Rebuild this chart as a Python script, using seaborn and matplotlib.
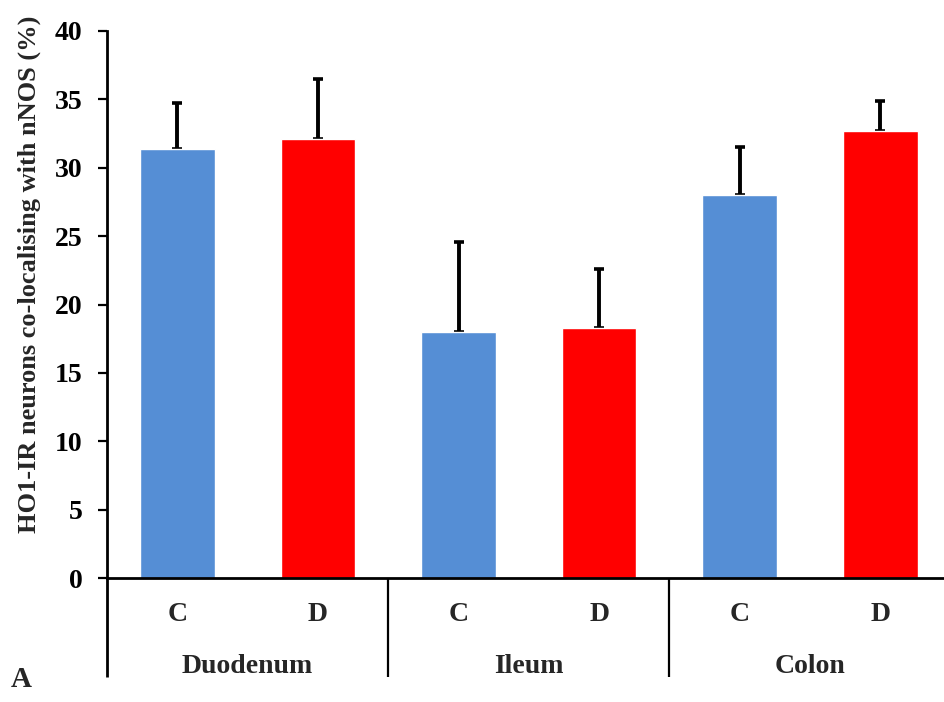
import matplotlib
matplotlib.use("Agg")
import matplotlib.pyplot as plt
import matplotlib.transforms as mtransforms
import numpy as np
import pandas as pd
import seaborn as sns

# Percentage of HO1-IR neurons co-localising with nNOS, mean + SEM
regions = ["Duodenum", "Ileum", "Colon"]
groups = ["C", "D"]
means = [31.4, 32.1, 18.0, 18.3, 28.0, 32.7]
errors = [3.3, 4.4, 6.6, 4.3, 3.5, 2.2]
bar_colors = ["#558ED5", "#FF0000"]

sns.set_theme(style="white")
plt.rcParams["font.family"] = ["Liberation Serif", "DejaVu Serif"]
plt.rcParams["font.weight"] = "bold"

labels = [f"{r} {g}" for r in regions for g in groups]
df = pd.DataFrame({"bar": labels, "value": means,
                   "group": [g for _ in regions for g in groups]})

W, H = 944, 702
fig = plt.figure(figsize=(W / 100, H / 100), dpi=100)
ax_left, ax_right, ax_top, ax_bottom = 107, 944, 31, 578
ax = fig.add_axes([ax_left / W, (H - ax_bottom) / H,
                   (ax_right - ax_left) / W, (ax_bottom - ax_top) / H])

sns.barplot(data=df, x="bar", y="value", hue="group", palette=bar_colors,
            order=labels, width=0.53, dodge=False, legend=False,
            saturation=1, ax=ax)

x = np.arange(len(means))
ax.errorbar(x, means, yerr=[np.zeros(len(errors)), errors], fmt="none",
            ecolor="black", elinewidth=2.8, capsize=3.3, capthick=2.6,
            zorder=1)
for p in ax.patches:
    p.set_zorder(2)

ax.set_ylim(0, 40)
ax.set_yticks(np.arange(0, 41, 5))
spacing = 140.6
ax.set_xlim(-0.5, -0.5 + (ax_right - ax_left) / spacing)
ax.set_xticks(x)
ax.set_xticklabels([g for _ in regions for g in groups])
ax.set_xlabel("")

for s in ["top", "right"]:
    ax.spines[s].set_visible(False)
for s in ["left", "bottom"]:
    ax.spines[s].set_linewidth(2.0)
    ax.spines[s].set_color("black")

ax.tick_params(axis="y", direction="out", length=6.5, width=1.6,
               labelsize=20, pad=11, colors="black", left=True)
ax.tick_params(axis="x", length=0, labelsize=20, pad=17)
for t in ax.get_xticklabels() + ax.get_yticklabels():
    t.set_fontweight("bold")

ax.set_ylabel("HO1-IR neurons co-localising with nNOS (%)",
              fontsize=19, fontweight="bold")
ax.yaxis.set_label_coords(-0.079, 0.556)

# Category brackets below the axis
trans = mtransforms.blended_transform_factory(ax.transData, ax.transAxes)
depth = (ax_bottom - 677) / (ax_bottom - ax_top)
for xs in [-0.5, 1.5, 3.5]:
    ax.plot([xs, xs], [0, depth], color="black", lw=2.0 if xs < 0 else 1.6,
            transform=trans, clip_on=False, solid_capstyle="butt")
label_y = (ax_bottom - 673) / (ax_bottom - ax_top)
for i, r in enumerate(regions):
    ax.text(2 * i + 0.5, label_y, r, transform=trans, ha="center",
            va="baseline", fontsize=20, fontweight="bold")

fig.text(11 / W, (H - 687) / H, "A", ha="left", va="baseline",
         fontsize=21, fontweight="bold")

fig.savefig("out.png", dpi=100)
